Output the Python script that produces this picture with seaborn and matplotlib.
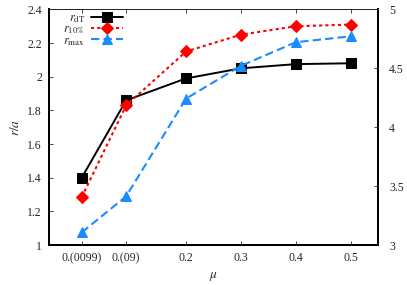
import numpy as np
import pandas as pd
import matplotlib
matplotlib.use('Agg')
import matplotlib.pyplot as plt
import seaborn as sns

mu = [1 / 101, 1 / 11, 0.2, 0.3, 0.4, 0.5]
mu_labels = ['0.(0099)', '0.(09)', '0.2', '0.3', '0.4', '0.5']
r_dT = [1.40, 1.86, 1.99, 2.05, 2.075, 2.08]
r_10 = [1.285, 1.83, 2.15, 2.25, 2.30, 2.31]
r_max = [1.075, 1.29, 1.87, 2.065, 2.205, 2.24]

sns.set_style('ticks')
plt.rcParams['font.family'] = ['Liberation Serif', 'DejaVu Serif']
plt.rcParams['mathtext.fontset'] = 'stix'

fig = plt.figure(figsize=(4.07, 2.85), dpi=100)
ax = fig.add_axes([0.120, 0.140, 0.809, 0.827])

df = pd.DataFrame({'mu': mu, 'dT': r_dT, 'p10': r_10, 'max': r_max})

sns.lineplot(data=df, x='mu', y='dT', ax=ax, color='black', lw=1.4,
             marker='s', ms=7.5, mec='black', label=r'$r_{\mathrm{dT}}$')
sns.lineplot(data=df, x='mu', y='p10', ax=ax, color='#ff0000', lw=1.5,
             dashes=(1.5, 1.5), marker='D', ms=6.5, mec='#ff0000',
             label=r'$r_{10\%}$')
sns.lineplot(data=df, x='mu', y='max', ax=ax, color='#1a8cff', lw=1.5,
             dashes=(4, 2), marker='^', ms=7.5, mec='#1a8cff',
             label=r'$r_{\max}$')

ax.set_xlim(-0.05, 0.55)
ax.set_ylim(1, 2.4)
ax.set_xticks(mu)
ax.set_xticklabels(mu_labels)
ax.set_yticks(np.arange(1, 2.41, 0.2))
ax.set_yticklabels(['1', '1.2', '1.4', '1.6', '1.8', '2', '2.2', '2.4'])
ax.set_xlabel(r'$\mu$', fontsize=9.5, labelpad=4)
ax.set_ylabel(r'$r/a$', fontsize=9.5, labelpad=4)
ax.tick_params(direction='in', top=True, right=False, length=3, width=0.6,
               labelsize=8.5, pad=5)

ax2 = ax.twinx()
ax2.set_ylim(3, 5)
ax2.set_yticks([3, 3.5, 4, 4.5, 5])
ax2.set_yticklabels(['3', '3.5', '4', '4.5', '5'])
ax2.tick_params(direction='in', length=3, width=0.6, labelsize=8.5, pad=8)

for a in (ax, ax2):
    for s in ['left', 'bottom', 'right']:
        a.spines[s].set_linewidth(1.4)
        a.spines[s].set_color('black')
    a.spines['top'].set_linewidth(0.7)
    a.spines['top'].set_visible(True)
    a.spines['right'].set_visible(True)

leg = ax.legend(loc='upper left', bbox_to_anchor=(0.025, 1.015), frameon=False,
                markerfirst=False, fontsize=9, handlelength=2.6,
                labelspacing=-0.12, borderaxespad=0.1, handletextpad=0.45)

fig.savefig('out.png', dpi=100)
